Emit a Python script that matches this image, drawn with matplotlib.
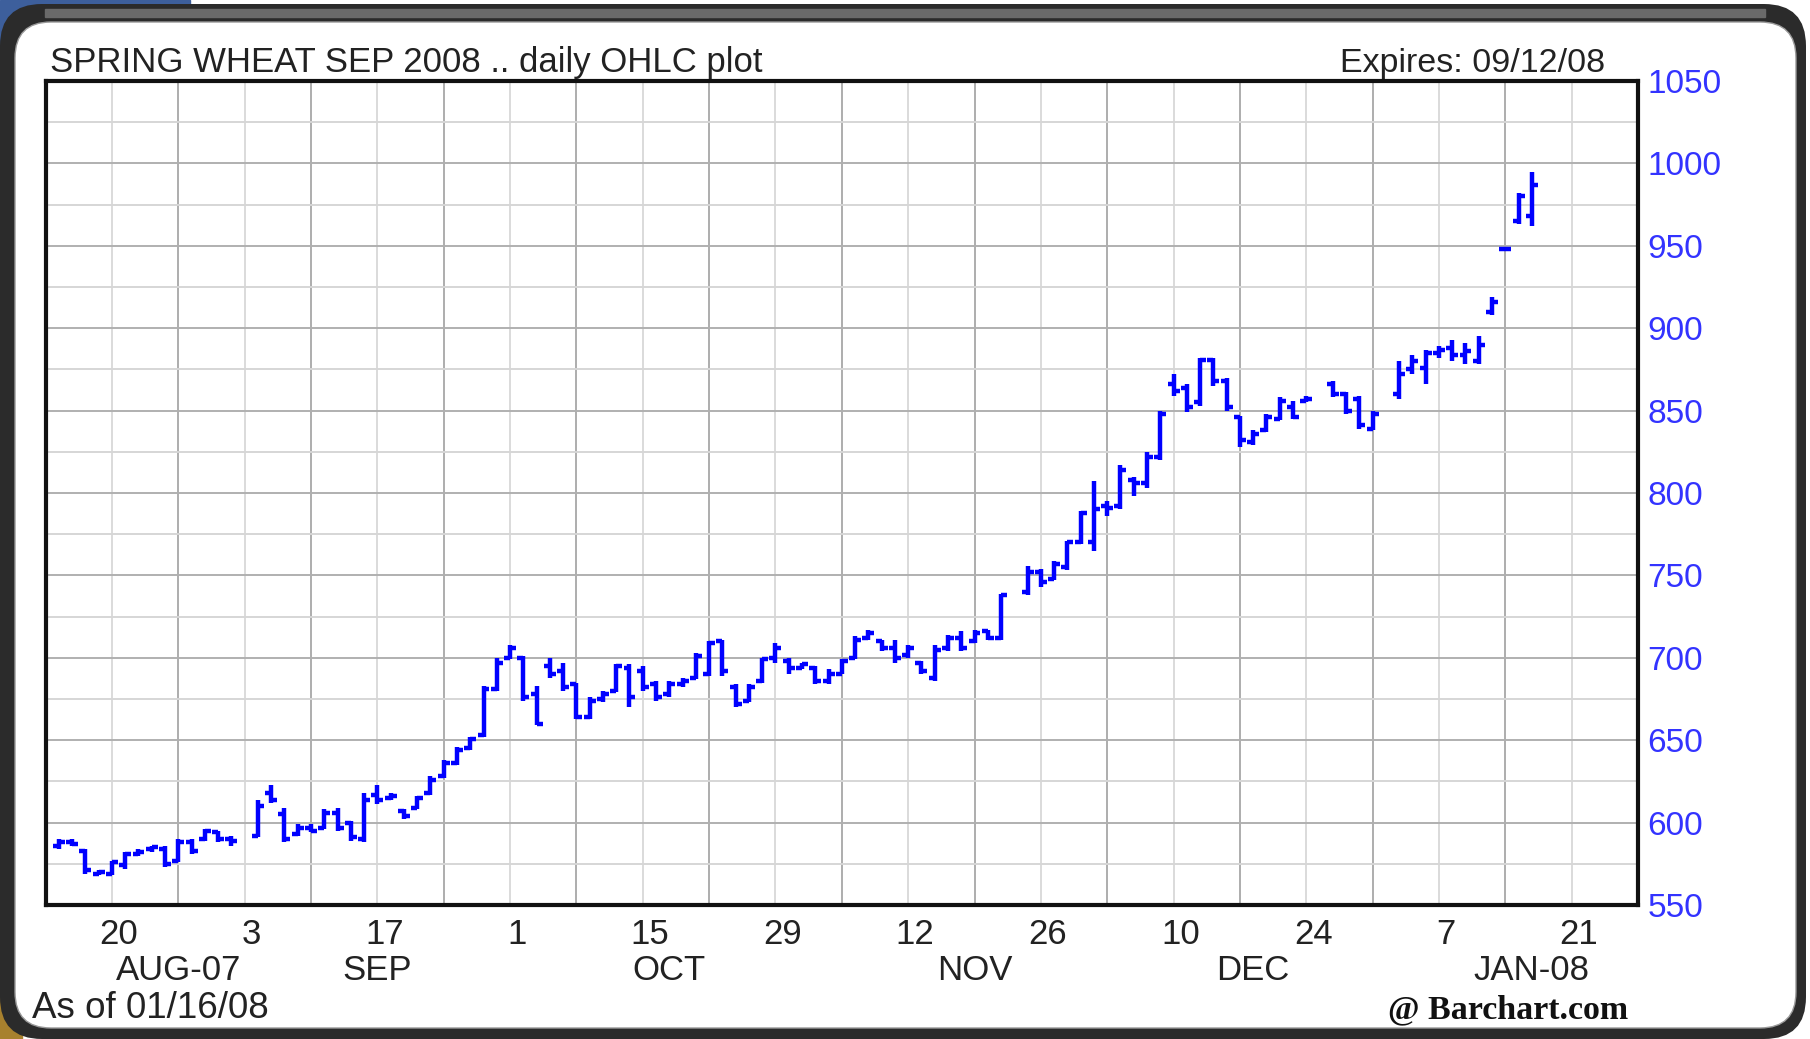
#spring wheat daily OHLC chart, barchart style
import numpy as np
import pandas as pd
import matplotlib
matplotlib.use('Agg')
import matplotlib.pyplot as plt
import matplotlib.transforms as mtransforms
from matplotlib.patches import FancyBboxPatch, Rectangle

plt.rcParams['font.family'] = ['Liberation Sans', 'DejaVu Sans']

#trading days on the chart (weekdays, exchange holidays left out)
holidays = ['2007-09-03', '2007-11-22', '2007-12-25', '2008-01-01']
dates = [d for d in pd.bdate_range('2007-08-14', '2008-01-16')
         if d.strftime('%Y-%m-%d') not in holidays]

#prices, cents per bushel
opens = [586, 588, 583, 569, 569, 574, 581, 584, 584, 577, 588, 590, 594, 590,
         592, 618, 605, 593, 597, 597, 606, 600, 590, 617, 615, 607, 609, 618, 628, 636,
         645, 653, 681, 700, 700, 678, 695, 692, 684, 664, 675, 680, 694, 692, 684, 678,
         684, 688, 690, 710, 682, 674, 686, 700, 698, 694, 694, 686, 690, 700, 712, 710,
         706, 702, 697, 688, 706, 712, 710, 716, 712,
         740, 752, 748, 755, 770, 770, 792, 792, 808, 806, 822, 866, 864, 855, 881, 868,
         846, 831, 838, 845, 852, 856,
         866, 860, 857, 839,
         860, 875, 876, 885, 888, 884, 880, 910, 948, 965, 968]
highs = [590, 590, 584, 571, 577, 582, 584, 586, 586, 590, 590, 596, 595, 592,
         614, 623, 609, 599, 599, 608, 609, 601, 618, 623, 618, 608, 616, 628, 638, 646,
         652, 683, 700, 708, 701, 683, 700, 697, 685, 676, 680, 696, 696, 695, 686, 686,
         688, 703, 710, 711, 684, 684, 700, 709, 700, 697, 695, 693, 699, 713, 717, 711,
         711, 708, 698, 708, 714, 716, 717, 717, 739,
         756, 754, 759, 771, 789, 807, 795, 817, 810, 825, 850, 872, 866, 882, 882, 870,
         847, 838, 848, 858, 856, 859,
         868, 861, 859, 850,
         880, 884, 887, 889, 893, 891, 895, 919, 949, 982, 995]
lows = [584, 586, 569, 568, 568, 572, 580, 582, 573, 576, 581, 589, 588, 586,
        591, 612, 588, 592, 594, 596, 595, 589, 588, 611, 614, 602, 608, 617, 627, 635,
        644, 652, 680, 699, 674, 659, 688, 680, 663, 663, 673, 679, 670, 680, 674, 676,
        682, 687, 689, 689, 670, 673, 685, 697, 690, 693, 684, 684, 690, 699, 711, 704,
        697, 700, 690, 686, 704, 704, 709, 711, 711,
        738, 743, 747, 753, 769, 765, 786, 790, 798, 803, 820, 859, 849, 853, 865, 850,
        828, 829, 837, 844, 845, 855,
        858, 848, 839, 838,
        857, 872, 866, 882, 880, 878, 878, 908, 947, 963, 962]
closes = [588, 587, 571, 570, 576, 581, 582, 585, 575, 588, 583, 595, 590, 589,
          610, 614, 590, 597, 595, 606, 597, 591, 614, 614, 616, 604, 615, 626, 636, 644,
          651, 681, 697, 706, 676, 660, 690, 682, 664, 674, 678, 695, 676, 682, 676, 684,
          686, 701, 709, 692, 672, 682, 699, 706, 694, 696, 686, 690, 698, 711, 715, 706,
          700, 706, 692, 705, 712, 706, 715, 712, 738,
          752, 746, 757, 770, 788, 790, 791, 814, 806, 822, 848, 862, 852, 881, 868, 852,
          832, 836, 846, 856, 846, 857,
          860, 850, 841, 848,
          872, 880, 885, 887, 884, 886, 890, 916, 948, 980, 987]

#axis labels
tick_dates = ['2007-08-20', '2007-09-03', '2007-09-17', '2007-10-01', '2007-10-15', '2007-10-29',
              '2007-11-12', '2007-11-26', '2007-12-10', '2007-12-24', '2008-01-07', '2008-01-21']
tick_labels = ['20', '3', '17', '1', '15', '29', '12', '26', '10', '24', '7', '21']
month_labels = ['AUG-07', 'SEP', 'OCT', 'NOV', 'DEC', 'JAN-08']
month_dates = ['2007-08-27', '2007-09-17', '2007-10-17', '2007-11-19', '2007-12-18', '2008-01-16']
price_ticks = [550, 600, 650, 700, 750, 800, 850, 900, 950, 1000, 1050]

#x position = weekday count from monday 13 aug 2007
origin = '2007-08-13'
def wd(ds):
    return np.busday_count(origin, np.array(ds, dtype='datetime64[D]'))

x = wd([d.strftime('%Y-%m-%d') for d in dates])
mondays = wd([d.strftime('%Y-%m-%d') for d in pd.date_range(origin, '2008-01-28', freq='W-MON')])
label_x = wd(tick_dates)
other_mondays = [m for m in mondays if m not in label_x]

W, H = 1810, 1039
fig = plt.figure(figsize=(W / 100, H / 100), dpi=100)
fig.patch.set_facecolor('white')

#background in pixel coordinates: rounded dark frame
bg = fig.add_axes([0, 0, 1, 1], zorder=0)
bg.set_xlim(0, W)
bg.set_ylim(H, 0)
bg.axis('off')
bg.add_patch(Rectangle((0, 0), 190, 45, color='#3d5f9c'))
bg.add_patch(Rectangle((0, 995), 22, 44, color='#a8812e'))
bg.add_patch(FancyBboxPatch((0, 4), 1806, 1035, boxstyle='round,pad=0,rounding_size=42',
                            facecolor='#2b2b2b', edgecolor='none'))
bg.add_patch(Rectangle((45, 9), 1720, 8, color='#6a6a6a'))
bg.add_patch(FancyBboxPatch((15, 22), 1781, 1006, boxstyle='round,pad=0,rounding_size=36',
                            facecolor='white', edgecolor='#999999', linewidth=1))

bg.text(50, 72, 'SPRING WHEAT SEP 2008 .. daily OHLC plot', fontsize=25, color='#222222', va='baseline')
bg.text(1605, 72, 'Expires: 09/12/08', fontsize=24.5, color='#222222', va='baseline', ha='right')
bg.text(32, 1018, 'As of 01/16/08', fontsize=26.5, color='#222222', va='baseline')
bg.text(1628, 1018, '@ Barchart.com', fontsize=24.5, color='#111111', va='baseline', ha='right',
        family=['Liberation Serif', 'DejaVu Serif'], fontweight='bold')

#main chart
ax = fig.add_axes([45.6 / W, 1 - 905 / H, (1638 - 45.6) / W, (905 - 81) / H], zorder=1)
ax.set_facecolor('white')
ax.set_xlim(0, 120)
ax.set_ylim(550, 1050)

ax.set_xticks(label_x)
ax.set_xticklabels(tick_labels)
ax.set_xticks(other_mondays, minor=True)
ax.set_yticks(price_ticks)
ax.set_yticks(np.arange(575, 1050, 50), minor=True)
ax.yaxis.tick_right()
ax.tick_params(which='both', length=0)
ax.tick_params(axis='x', labelsize=25, labelcolor='#222222', pad=9)
ax.tick_params(axis='y', labelsize=24, labelcolor='#3333ff', pad=7)

#day numbers sit a little right of their grid line
shift = mtransforms.ScaledTranslation(5 / 72, 0, fig.dpi_scale_trans)
for lbl in ax.get_xticklabels():
    lbl.set_transform(lbl.get_transform() + shift)

ax.grid(which='major', axis='x', color='#dadada', linewidth=1.4)
ax.grid(which='minor', axis='x', color='#adadad', linewidth=1.4)
ax.grid(which='major', axis='y', color='#b0b0b0', linewidth=1.4)
ax.grid(which='minor', axis='y', color='#d6d6d6', linewidth=1.4)
ax.set_axisbelow(True)

for s in ax.spines.values():
    s.set_linewidth(3)
    s.set_color('#111111')

for lab, d in zip(month_labels, wd(month_dates)):
    ax.text(d, -0.091, lab, transform=ax.get_xaxis_transform(), fontsize=25,
            color='#222222', ha='center', va='baseline')

#OHLC bars
blue = '#0000ff'
tw = 0.45
ax.vlines(x, lows, highs, color=blue, linewidth=3.2, zorder=3)
ax.hlines(opens, x - tw, x, color=blue, linewidth=3.2, zorder=3)
ax.hlines(closes, x, x + tw, color=blue, linewidth=3.2, zorder=3)

fig.savefig('out.png', dpi=100)
